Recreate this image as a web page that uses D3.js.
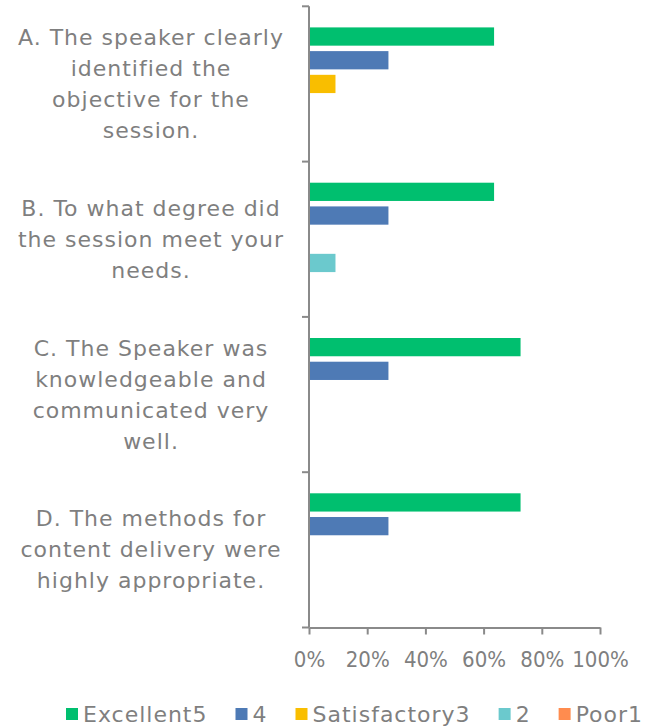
<!DOCTYPE html>
<html>
<head>
<meta charset="utf-8">
<script src="https://cdn.jsdelivr.net/npm/d3@7"></script>
<style>
  body { margin: 0; background: #fff; }
  text { font-family: "DejaVu Sans", sans-serif; fill: #7f7f7f; }
</style>
</head>
<body>
<div id="chart"></div>
<script>
// categories (questions), split into the lines shown in the chart
const categories = ["A", "B", "C", "D"];
const categoryLines = [
    ["A. The speaker clearly", "identified the", "objective for the", "session."],
    ["B. To what degree did", "the session meet your", "needs."],
    ["C. The Speaker was", "knowledgeable and", "communicated very", "well."],
    ["D. The methods for", "content delivery were", "highly appropriate."]
];

// series names + shares of responses per category
const seriesNames = ["Excellent5", "4", "Satisfactory3", "2", "Poor1"];
const excellent5 = [0.636, 0.636, 0.727, 0.727];
const four = [0.273, 0.273, 0.273, 0.273];
const satisfactory3 = [0.091, 0, 0, 0];
const two = [0, 0.091, 0, 0];
const poor1 = [0, 0, 0, 0];
const seriesColors = ["#00bf6f", "#4e7ab5", "#f9be00", "#6bc9cd", "#ff8c4f"];

const xTicks = [0, 0.2, 0.4, 0.6, 0.8, 1];

const W = 651, H = 727;
const plotLeft = 309, plotRight = 600, plotTop = 6.3, plotBottom = 627.5;

const seriesValues = [excellent5, four, satisfactory3, two, poor1];

const svg = d3.select("#chart").append("svg")
    .attr("width", W)
    .attr("height", H);

const x = d3.scaleLinear().domain([0, 1]).range([plotLeft, plotRight]);

const y = d3.scaleBand()
    .domain(categories)
    .range([plotTop, plotBottom])
    .padding(0);

const ySeries = d3.scaleBand()
    .domain(seriesNames)
    .range([0, y.bandwidth()])
    .paddingInner(0.23)
    .paddingOuter(0.89);

// bars
categories.forEach(function (c, i) {
    const g = svg.append("g")
        .attr("transform", "translate(0," + y(c) + ")");
    g.selectAll("rect")
        .data(seriesNames.map(function (s, j) {
            return { name: s, value: seriesValues[j][i], color: seriesColors[j] };
        }))
        .enter()
        .append("rect")
        .attr("x", x(0))
        .attr("y", function (d) { return ySeries(d.name); })
        .attr("width", function (d) { return x(d.value) - x(0); })
        .attr("height", ySeries.bandwidth())
        .attr("fill", function (d) { return d.color; });
});

// x axis
const xAxis = svg.append("g")
    .attr("transform", "translate(0," + plotBottom + ")")
    .call(d3.axisBottom(x)
        .tickValues(xTicks)
        .tickFormat(d3.format(".0%"))
        .tickSize(7)
        .tickSizeOuter(0));
xAxis.select(".domain").attr("stroke", "#8a8a8a").attr("stroke-width", 2);
xAxis.selectAll(".tick line").attr("stroke", "#8a8a8a").attr("stroke-width", 2);
xAxis.selectAll(".tick text")
    .attr("y", 24)
    .attr("fill", "#7f7f7f")
    .style("font-family", "'DejaVu Sans Condensed', sans-serif")
    .style("font-size", "22px");

// y axis: line + ticks at the category boundaries
svg.append("line")
    .attr("x1", x(0)).attr("x2", x(0))
    .attr("y1", plotTop).attr("y2", plotBottom)
    .attr("stroke", "#8a8a8a").attr("stroke-width", 2);
const bounds = categories.map(function (c) { return y(c); }).concat([plotBottom]);
svg.selectAll(".ytick")
    .data(bounds)
    .enter()
    .append("line")
    .attr("class", "ytick")
    .attr("x1", x(0) - 7).attr("x2", x(0))
    .attr("y1", function (d) { return d; })
    .attr("y2", function (d) { return d; })
    .attr("stroke", "#8a8a8a").attr("stroke-width", 2);

// category labels
const lineH = 31;
categories.forEach(function (c, i) {
    const lines = categoryLines[i];
    const cy = y(c) + y.bandwidth() / 2;
    const t = svg.append("text")
        .attr("text-anchor", "middle")
        .style("font-size", "22px")
        .style("letter-spacing", "1px");
    lines.forEach(function (l, k) {
        t.append("tspan")
            .attr("x", 151)
            .attr("y", cy + (k - (lines.length - 1) / 2) * lineH + 7.5)
            .text(l);
    });
});

// legend
const legend = svg.append("g").attr("transform", "translate(66,714)");
let lx = 0;
seriesNames.forEach(function (s, j) {
    legend.append("rect")
        .attr("x", lx).attr("y", -6)
        .attr("width", 12).attr("height", 12)
        .attr("fill", seriesColors[j]);
    const t = legend.append("text")
        .attr("x", lx + 17).attr("y", 8)
        .style("font-size", "22px")
        .style("letter-spacing", "1px")
        .text(s);
    lx += 17 + t.node().getComputedTextLength() + 28;
});
</script>
</body>
</html>
